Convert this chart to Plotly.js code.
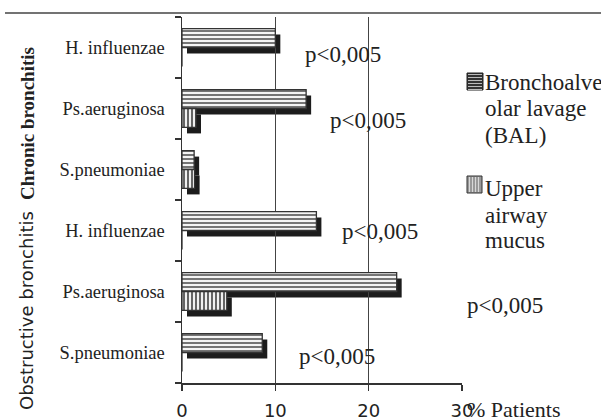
<!DOCTYPE html>
<html>
<head>
<meta charset="utf-8">
<script src="https://cdn.plot.ly/plotly-3.0.1.min.js"></script>
<style>html,body{margin:0;padding:0;background:#fff;}#chart{width:601px;height:420px;}</style>
</head>
<body>
<div id="chart"></div>
<script>
// ---- data ----
const categories = ["H. influenzae", "Ps.aeruginosa", "S.pneumoniae", "H. influenzae", "Ps.aeruginosa", "S.pneumoniae"];
const groups = ["Chronic bronchitis", "Obstructive bronchitis"];
const balValues = [10.0, 13.3, 1.3, 14.4, 23.0, 8.6];
const upperValues = [0, 1.5, 1.35, 0, 4.8, 0];
const xTicks = [0, 10, 20, 30];
const seriesNames = ["Bronchoalveolar lavage (BAL)", "Upper airway mucus"];
const pLabel = "p<0,005";

// ---- geometry helpers (pixel -> paper) ----
const ML = 182, MR = 133, MT = 17, MB = 30;
const W = 601 - ML - MR, H = 420 - MT - MB;
const px = v => (v - ML) / W;
const py = v => (420 - MB - v) / H;

const pos = categories.map((c, i) => i);

const common = {type: 'bar', orientation: 'h', hoverinfo: 'skip', showlegend: false};

const shadowBal = Object.assign({}, common, {x: balValues, y: pos, xaxis: 'x', yaxis: 'y',
  marker: {color: '#1c1c1c', line: {width: 0}}});
const shadowUp = Object.assign({}, common, {x: upperValues, y: pos, xaxis: 'x', yaxis: 'y',
  marker: {color: '#1c1c1c', line: {width: 0}}});

const bal = Object.assign({}, common, {name: seriesNames[0], x: balValues, y: pos, xaxis: 'x2', yaxis: 'y2',
  marker: {color: '#f2f2f2', line: {color: '#333', width: 1.3},
    pattern: {shape: '-', fgcolor: '#666', bgcolor: '#f4f4f4', size: 4, solidity: 0.45}}});
const up = Object.assign({}, common, {name: seriesNames[1], x: upperValues, y: pos, xaxis: 'x2', yaxis: 'y2',
  marker: {color: '#e8e8e8', line: {color: '#333', width: 1.3},
    pattern: {shape: '|', fgcolor: '#555', bgcolor: '#f0f0f0', size: 4, solidity: 0.45}}});

const serif = 'Liberation Serif';
const sans = 'DejaVu Sans';

const annotations = [];
function ann(text, x, y, size, opts) {
  annotations.push(Object.assign({text: text, x: x, y: y, xref: 'paper', yref: 'paper', showarrow: false,
    xanchor: 'left', yanchor: 'middle', font: {family: serif, size: size, color: '#222'}}, opts || {}));
}
// p-value labels
[[302.5, 55], [328, 121], [340, 232], [465, 305], [296.5, 356]].forEach(p => ann(pLabel, px(p[0]), py(p[1]), 23));
// group labels
ann(groups[0], px(28), py(124), 19, {xanchor: 'center', textangle: -90, font: {family: serif, size: 19, color: '#222', weight: 'bold'}});
ann(groups[1], px(26), py(311), 18, {xanchor: 'center', textangle: -90, font: {family: sans, size: 18, color: '#222'}});
// axis unit
ann('% Patients', px(465), py(409), 22);
// legend text
ann('Bronchoalve', px(483), py(82), 23);
ann('olar lavage', px(483), py(108), 23);
ann('(BAL)', px(483), py(135), 23);
ann('Upper', px(483), py(188), 23);
ann('airway', px(483), py(215), 23);
ann('mucus', px(483), py(241), 23);

// legend icons
function hStripes(x0, x1, y0, y1, step) {
  let d = '';
  for (let y = y0 + step / 2; y < y1; y += step) d += `M${px(x0)},${py(y)}L${px(x1)},${py(y)}`;
  return d;
}
function vStripes(x0, x1, y0, y1, step) {
  let d = '';
  for (let x = x0 + step / 2; x < x1; x += step) d += `M${px(x)},${py(y0)}L${px(x)},${py(y1)}`;
  return d;
}
const shapes = [
  {type: 'line', xref: 'paper', yref: 'paper', x0: px(5), x1: px(601), y0: py(13), y1: py(13), line: {color: '#444', width: 1.5}},
  {type: 'rect', xref: 'paper', yref: 'paper', x0: px(467), x1: px(483), y0: py(73), y1: py(90), fillcolor: '#333', line: {color: '#222', width: 1}},
  {type: 'path', xref: 'paper', yref: 'paper', path: hStripes(468, 482, 73, 90, 3), line: {color: '#bbb', width: 1}},
  {type: 'rect', xref: 'paper', yref: 'paper', x0: px(467), x1: px(482), y0: py(176), y1: py(193), fillcolor: '#999', line: {color: '#333', width: 1}},
  {type: 'path', xref: 'paper', yref: 'paper', path: vStripes(468, 481, 177, 192, 3), line: {color: '#d8d8d8', width: 1}}
];

const layout = {
  width: 601, height: 420,
  margin: {l: ML, r: MR, t: MT, b: MB, pad: 0},
  paper_bgcolor: '#fff', plot_bgcolor: 'rgba(0,0,0,0)',
  barmode: 'group', bargap: 0.38, bargroupgap: 0,
  showlegend: false,
  xaxis: {domain: [5 / W, 285 / W], range: [0, 30], visible: false, fixedrange: true},
  yaxis: {domain: [1 / H, 367 / H], range: [5.5, -0.5], visible: false, fixedrange: true},
  xaxis2: {domain: [0, 280 / W], anchor: 'y2', range: [0, 30], tickmode: 'array', tickvals: xTicks,
    ticks: 'outside', ticklen: 6, tickcolor: '#333', tickwidth: 1.3,
    showgrid: true, gridcolor: '#444', gridwidth: 1.2, zeroline: false,
    showline: true, linecolor: '#333', linewidth: 1.5, ticklabelstandoff: 5,
    tickfont: {family: sans, size: 18, color: '#222'}},
  yaxis2: {domain: [7 / H, 1], anchor: 'x2', range: [5.5, -0.5], tickmode: 'array', tickvals: pos, ticktext: categories,
    ticks: '', showgrid: false, zeroline: false, showline: true, linecolor: '#333', linewidth: 1.5,
    ticklabelstandoff: 12,
    minor: {tickmode: 'array', tickvals: [-0.5, 0.5, 1.5, 2.5, 3.5, 4.5, 5.5], ticks: 'outside', ticklen: 6, tickcolor: '#333', tickwidth: 1.3, showgrid: false},
    tickfont: {family: serif, size: 18.5, color: '#222'}},
  annotations: annotations,
  shapes: shapes
};

Plotly.newPlot('chart', [shadowBal, shadowUp, bal, up], layout, {staticPlot: true, displayModeBar: false});
</script>
</body>
</html>
